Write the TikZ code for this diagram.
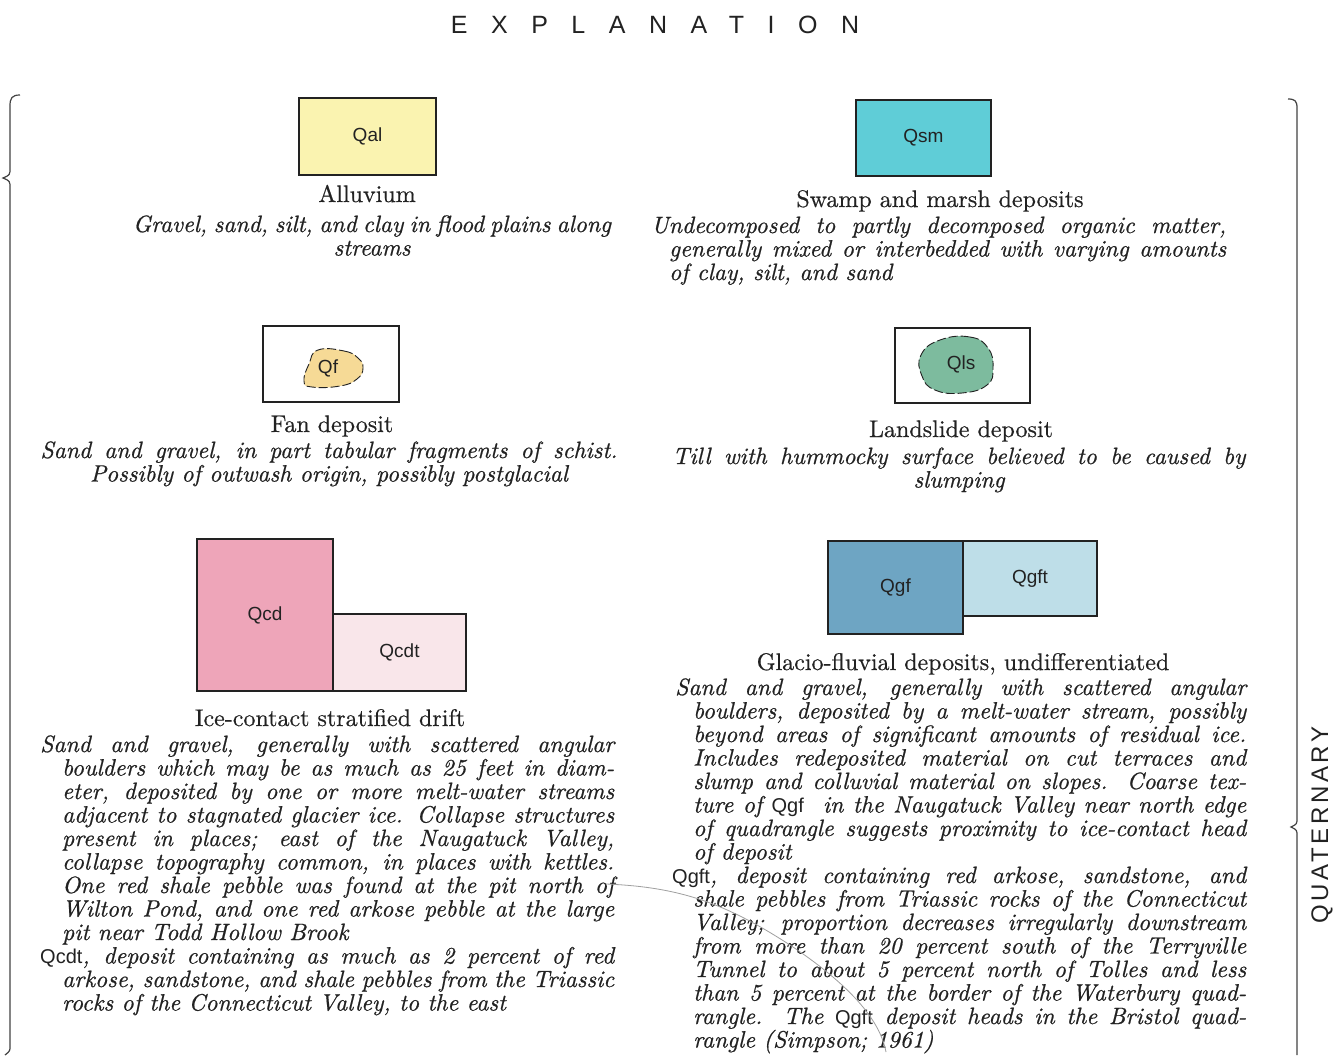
\documentclass[tikz,border=0pt]{standalone}
\usepackage{fontspec}
\setmainfont{lmroman10-regular.otf}[ItalicFont=lmroman10-italic.otf, BoldFont=lmroman10-bold.otf, UprightFeatures={FakeBold=0.5}, ItalicFeatures={FakeBold=0.7}]
\newfontfamily\sansf{Liberation Sans}
\newfontfamily\titlef[LetterSpace=94]{Liberation Sans}
\newfontfamily\quatf[LetterSpace=15]{Liberation Sans}
\definecolor{cqal}{HTML}{FAF3B0}
\definecolor{cqsm}{HTML}{5FCDD7}
\definecolor{cqf}{HTML}{F6DA96}
\definecolor{cqls}{HTML}{7DBB9E}
\definecolor{cqcd}{HTML}{EEA5B9}
\definecolor{cqcdt}{HTML}{F9E6EA}
\definecolor{cqgf}{HTML}{6EA5C3}
\definecolor{cqgft}{HTML}{BEDEE8}
\definecolor{ink}{HTML}{222222}
\newcommand\descfont{\fontsize{23.6}{23.5}\selectfont\itshape}
\newcommand\headfont{\fontsize{24}{28}\selectfont}
\newcommand\sq[1]{{\sansf\upshape\fontsize{20}{23.5}\selectfont #1}}
\newcommand\parsetup{\setlength{\baselineskip}{23.5pt}\setlength{\lineskiplimit}{-30pt}\setlength{\lineskip}{0pt}}
\newcommand\J[2]{\makebox[#1pt][s]{#2}}
\newcommand\I{\hspace*{22pt}}
\begin{document}
\begin{tikzpicture}[x=1pt,y=-1pt,
  unitbox/.style={draw=ink, line width=1.1pt, inner sep=0, font=\sansf\fontsize{19}{22}\selectfont, text=ink},
  blobline/.style={draw=ink, line width=0.9pt, dash pattern=on 9pt off 3pt},
  blobtext/.style={inner sep=0, font=\sansf\fontsize{19}{22}\selectfont, text=ink},
  head/.style={inner sep=0, anchor=base, font=\headfont, text=ink},
  para/.style={inner sep=0, anchor=base west, font=\descfont, text=ink},
  cpara/.style={inner sep=0, anchor=base, font=\descfont, text=ink},
  bracel/.style={draw=ink!85, line width=1.2pt}
]
\useasboundingbox (0,0) rectangle (1336,1055);
\fill[white] (0,0) rectangle (1336,1055);

% title
\node[inner sep=0, anchor=base, font=\titlef\fontsize{25}{30}\selectfont, text=ink] (title) at (655,33) {EXPLANATION};

% braces
\draw[bracel] (20,95) .. controls (12,95) and (10,98) .. (10,106) -- (10,168)
  .. controls (10,175) .. (3,178) .. controls (10,181) .. (10,188) -- (10,1046)
  .. controls (10,1051) .. (5,1055);
\draw[bracel] (1288,99) .. controls (1295,99) and (1297,101) .. (1297,108) -- (1297,818)
  .. controls (1297,824) .. (1291,827) .. controls (1297,830) .. (1297,836) -- (1297,1055);
\node[inner sep=0, rotate=90, font=\quatf\fontsize{24}{28}\selectfont, text=ink] (quat) at (1322,825) {QUATERNARY};

% ---------- Alluvium
\node[unitbox, fill=cqal, minimum width=137pt, minimum height=77pt] (qal) at (367.5,136.5) {Qal};
\node[head] (alh) at (367,202) {Alluvium};
\node[cpara] (ald) at (372,232) {\parbox[t]{600pt}{\parsetup\centering
\J{478}{Gravel, sand, silt, and clay in flood plains along}\\
streams}};

% ---------- Swamp
\node[unitbox, fill=cqsm, minimum width=135pt, minimum height=76pt] (qsm) at (923.5,138) {Qsm};
\node[head] (smh) at (940,207) {Swamp and marsh deposits};
\node[para] (smd) at (651,233) {\parbox[t]{600pt}{\parsetup
\J{575}{Undecomposed to partly decomposed organic matter,}\\
\hspace*{18pt}\J{557}{generally mixed or interbedded with varying amounts}\\
\hspace*{18pt}of clay, silt, and sand}};

% ---------- Fan
\node[draw=ink, line width=1.1pt, fill=white, minimum width=136pt, minimum height=76pt, inner sep=0] (qfbox) at (331,364) {};
\fill[cqf] plot[smooth cycle, tension=0.8] coordinates {(318,350) (344,351) (358,358) (363,368) (357,379) (340,386) (312,387) (304,381) (309,364)};
\draw[blobline] plot[smooth cycle, tension=0.8] coordinates {(318,350) (344,351) (358,358) (363,368) (357,379) (340,386) (312,387) (304,381) (309,364)};
\node[blobtext] (qf) at (328,368) {Qf};
\node[head] (fanh) at (332,432) {Fan deposit};
\node[cpara] (fand) at (329,458) {\parbox[t]{620pt}{\parsetup\centering
\J{577}{Sand and gravel, in part tabular fragments of schist.}\\
Possibly of outwash origin, possibly postglacial}};

% ---------- Landslide
\node[draw=ink, line width=1.1pt, fill=white, minimum width=135pt, minimum height=75pt, inner sep=0] (qlsbox) at (962.5,365.5) {};
\fill[cqls] plot[smooth cycle, tension=0.8] coordinates {(940,340) (970,337) (988,348) (993,368) (987,385) (962,393) (935,390) (922,376) (921,355)};
\draw[blobline] plot[smooth cycle, tension=0.8] coordinates {(940,340) (970,337) (988,348) (993,368) (987,385) (962,393) (935,390) (922,376) (921,355)};
\node[blobtext] (qls) at (961,364) {Qls};
\node[head] (lsh) at (961,437) {Landslide deposit};
\node[cpara] (lsd) at (959,464) {\parbox[t]{620pt}{\parsetup\centering
\J{573}{Till with hummocky surface believed to be caused by}\\
slumping}};

% ---------- Ice-contact
\node[unitbox, fill=cqcd, minimum width=136pt, minimum height=152pt] (qcd) at (265,615) {Qcd};
\node[unitbox, fill=cqcdt, minimum width=133pt, minimum height=77pt] (qcdt) at (399.5,652.5) {Qcdt};
\node[head] (qcdh) at (330,726) {Ice-contact stratified drift};
\node[para] (qcdd) at (40,752) {\parbox[t]{600pt}{\parsetup
\J{574}{Sand and gravel, generally with scattered angular}\\
\I\J{552}{boulders which may be as much as 25 feet in diam-}\\
\I\J{552}{eter, deposited by one or more melt-water streams}\\
\I\J{552}{adjacent to stagnated glacier ice.  Collapse structures}\\
\I\J{552}{present in places; east of the Naugatuck Valley,}\\
\I\J{552}{collapse topography common, in places with kettles.}\\
\I\J{552}{One red shale pebble was found at the pit north of}\\
\I\J{552}{Wilton Pond, and one red arkose pebble at the large}\\
\I pit near Todd Hollow Brook\\
\J{574}{\sq{Qcdt}, deposit containing as much as 2 percent of red}\\
\I\J{552}{arkose, sandstone, and shale pebbles from the Triassic}\\
\I rocks of the Connecticut Valley, to the east}};

% ---------- Glacio-fluvial
\node[unitbox, fill=cqgf, minimum width=135pt, minimum height=93pt] (qgf) at (895.5,587.5) {Qgf};
\node[unitbox, fill=cqgft, minimum width=134pt, minimum height=75pt] (qgft) at (1030,578.5) {Qgft};
\node[head] (qgfh) at (963,670) {Glacio-fluvial deposits, undifferentiated};
\node[para] (qgfd) at (675,695) {\parbox[t]{600pt}{\parsetup
\J{571}{Sand and gravel, generally with scattered angular}\\
\hspace*{18pt}\J{553}{boulders, deposited by a melt-water stream, possibly}\\
\hspace*{18pt}\J{553}{beyond areas of significant amounts of residual ice.}\\
\hspace*{18pt}\J{553}{Includes redeposited material on cut terraces and}\\
\hspace*{18pt}\J{553}{slump and colluvial material on slopes.  Coarse tex-}\\
\hspace*{18pt}\J{553}{ture of \sq{Qgf}\ \ in the Naugatuck Valley near north edge}\\
\hspace*{18pt}\J{553}{of quadrangle suggests proximity to ice-contact head}\\
\hspace*{18pt}of deposit\\
\hspace*{-3pt}\J{574}{\sq{Qgft}, deposit containing red arkose, sandstone, and}\\
\hspace*{18pt}\J{553}{shale pebbles from Triassic rocks of the Connecticut}\\
\hspace*{18pt}\J{553}{Valley; proportion decreases irregularly downstream}\\
\hspace*{18pt}\J{553}{from more than 20 percent south of the Terryville}\\
\hspace*{18pt}\J{553}{Tunnel to about 5 percent north of Tolles and less}\\
\hspace*{18pt}\J{553}{than 5 percent at the border of the Waterbury quad-}\\
\hspace*{18pt}\J{553}{rangle.  The \sq{Qgft} deposit heads in the Bristol quad-}\\
\hspace*{18pt}rangle (Simpson; 1961)}};

% hair line crossing the text
\draw[gray!75, line width=0.8pt] (606,884) .. controls (680,887) and (725,903) .. (790,945)
  .. controls (850,985) and (880,1020) .. (886,1052);
\end{tikzpicture}
\end{document}
